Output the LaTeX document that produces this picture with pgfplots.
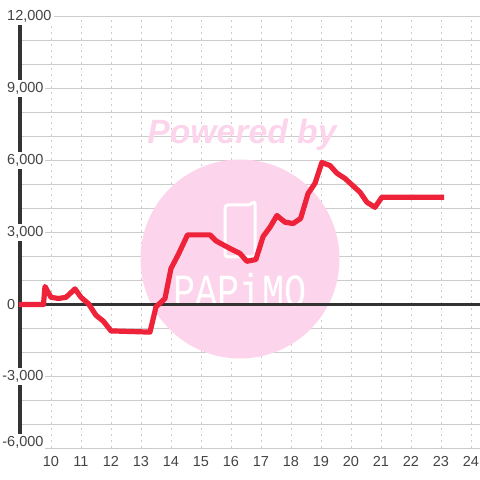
\documentclass[border=0pt]{standalone}
\usepackage{fontspec}
\setmainfont{Liberation Sans}
\newfontfamily\wmfont{Liberation Mono}
\usepackage{pgfplots}
\pgfplotsset{compat=1.18}
\definecolor{inkdark}{HTML}{333333}
\definecolor{ticktext}{HTML}{444444}
\definecolor{gridgrey}{HTML}{CCCCCC}
\definecolor{wmpink}{HTML}{FCD5EC}
\definecolor{linered}{HTML}{EE2238}

\begin{document}
\begin{tikzpicture}
  % watermark sits under the grid
  \fill[wmpink] (240pt,221pt) circle (99.5pt);
  \node[text=wmpink,font=\bfseries\itshape\fontsize{33.7}{33.7}\selectfont,inner sep=0pt] at (242pt,345pt) {Powered by};
  \draw[white,line width=3pt,rounded corners=3pt] (225pt,223pt) -- (225pt,275pt) -- (250pt,275pt) -- (255pt,279pt) -- (255pt,223pt) -- cycle;
  \node[text=white,font=\wmfont\fontsize{46}{46}\selectfont,inner sep=0pt,xscale=0.8,transform shape] at (240pt,190pt) {PAPiMO};
  \begin{axis}[
    at={(20pt,31.5pt)}, anchor=south west,
    width=460pt, height=432pt, scale only axis,
    set layers=standard,
    clip=false,
    xmin=8.967, xmax=24.3,
    ymin=-6000, ymax=12000,
    axis x line*=bottom,
    axis y line*=left,
    x axis line style={draw=none,-},
    y axis line style={draw=inkdark,line width=3.5pt,-},
    tick style={draw=none},
    xtick={10,11,...,24},
    ytick={-3000,0,3000,6000,9000,12000},
    yticklabels={\llap{-}{3,000},0,{3,000},{6,000},{9,000},{12,000}},
    scaled y ticks=false,
    minor ytick={-5000,-4000,-2000,-1000,1000,2000,4000,5000,7000,8000,10000,11000},
    extra y ticks={-6000},
    extra y tick labels={\llap{-}{6,000}},
    extra y tick style={grid=major,yticklabel style={yshift=6pt}},
    xmajorgrids, ymajorgrids, yminorgrids,
    x grid style={gridgrey,line width=0.9pt,dash pattern=on 2.5pt off 3.5pt},
    y grid style={gridgrey,line width=0.9pt},
    minor y grid style={gridgrey,line width=0.9pt},
    yticklabel style={anchor=west,xshift=-15pt,fill=white,inner xsep=2pt,inner ysep=2.5pt,text=ticktext,font=\fontsize{14.5}{14.5}\selectfont},
    /pgf/number format/assume math mode=true,
    xticklabel style={yshift=-6pt,inner sep=2pt,text=ticktext,font=\fontsize{14.5}{14.5}\selectfont},
  ]
    \addplot[inkdark,line width=3pt,forget plot] coordinates {(8.967,0) (24.3,0)};
    \addplot[linered,line width=5.2pt,line join=round,line cap=butt] coordinates {
      (8.93,0) (9.75,0) (9.8,750) (10,300) (10.25,250) (10.5,300) (10.8,650)
      (11,300) (11.25,30) (11.5,-450) (11.75,-700) (12,-1100) (13.3,-1150)
      (13.5,-100) (13.8,250) (14,1500) (14.25,2100) (14.55,2900) (15.3,2900)
      (15.5,2650) (15.97,2330) (16.3,2125) (16.53,1800) (16.83,1875) (17.07,2833)
      (17.3,3220) (17.53,3708) (17.8,3430) (18.07,3375) (18.32,3583) (18.57,4625)
      (18.8,5050) (19.03,5917) (19.3,5790) (19.53,5470) (19.8,5250) (20.3,4680)
      (20.53,4260) (20.8,4050) (21.03,4470) (23.1,4470)
    };
  \end{axis}
  % page frame, 1pt = 1px of the reference
  \pgfresetboundingbox
  \useasboundingbox (0pt,0pt) rectangle (480pt,480pt);
\end{tikzpicture}
\end{document}
